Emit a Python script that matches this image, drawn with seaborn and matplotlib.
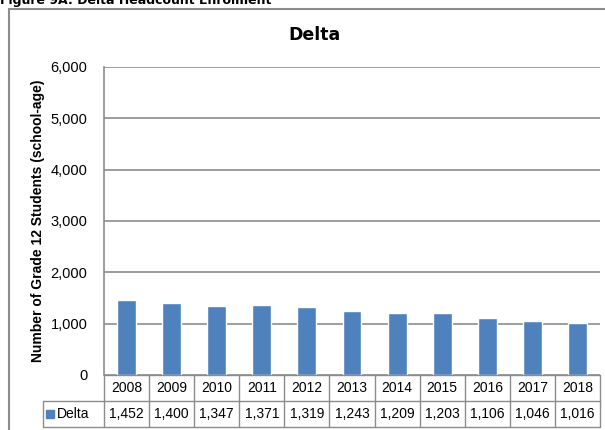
"""Figure 9A: Delta headcount enrolment, grade 12 (school-age)."""

import numpy as np
import pandas as pd
import matplotlib
matplotlib.use('Agg')
import matplotlib.pyplot as plt
import matplotlib.transforms as mtransforms
import seaborn as sns
from matplotlib.patches import Rectangle

years = ['2008', '2009', '2010', '2011', '2012', '2013', '2014', '2015', '2016', '2017', '2018']
delta = [1452, 1400, 1347, 1371, 1319, 1243, 1209, 1203, 1106, 1046, 1016]
yticks = [0, 1000, 2000, 3000, 4000, 5000, 6000]

BAR = '#4F81BD'
GRID = '#8C8C8C'
FONT = 'Liberation Sans'

sns.set_style('white')
plt.rcParams['font.family'] = [FONT, 'DejaVu Sans']
plt.rcParams['text.color'] = 'black'
plt.rcParams['axes.labelcolor'] = 'black'
plt.rcParams['ytick.labelcolor'] = 'black'

df = pd.DataFrame({'year': years, 'students': delta})

fig = plt.figure(figsize=(6.05, 4.30), dpi=100)
W, H = 605, 430
ax = fig.add_axes([104 / W, 1 - 375 / H, 496 / W, 308 / H])

sns.barplot(data=df, x='year', y='students', color=BAR, width=0.42,
            saturation=1, ax=ax)

ax.set_ylim(0, 6000)
ax.set_yticks(yticks)
ax.set_yticklabels([f'{v:,}' for v in yticks], fontsize=10.5)
ax.yaxis.grid(True, color=GRID, linewidth=1.2)
ax.set_axisbelow(True)
ax.set_xlim(-0.5, len(years) - 0.5)
ax.set_xticks([])
ax.set_xlabel('')
ax.set_ylabel('Number of Grade 12 Students (school-age)', fontsize=10,
              fontweight='bold', labelpad=4)
ax.tick_params(axis='y', length=4, color=GRID, pad=8)
for side in ['top', 'right', 'bottom']:
    ax.spines[side].set_visible(False)
ax.spines['left'].set_color(GRID)
ax.spines['left'].set_linewidth(1.2)

# data table under the bars: x in data units, y in axes units
trans = mtransforms.blended_transform_factory(ax.transData, ax.transAxes)
row_h = 26 / 308
y_top, y_mid, y_bot = 0.0, -row_h, -2 * row_h
lab_left = -0.5 - 61 / 496 * len(years)
n = len(years)
line_kw = dict(color=GRID, linewidth=1.0, transform=trans, clip_on=False)
ax.plot([-0.5, n - 0.5], [y_top, y_top], **line_kw)
ax.plot([lab_left, n - 0.5], [y_mid, y_mid], **line_kw)
ax.plot([lab_left, n - 0.5], [y_bot, y_bot], **line_kw)
ax.plot([lab_left, lab_left], [y_mid, y_bot], **line_kw)
for i in range(n + 1):
    ax.plot([i - 0.5, i - 0.5], [y_top, y_bot], **line_kw)
for i, (yr, v) in enumerate(zip(years, delta)):
    ax.text(i, (y_top + y_mid) / 2, yr, ha='center', va='center',
            fontsize=10, transform=trans)
    ax.text(i, (y_mid + y_bot) / 2, f'{v:,}', ha='center', va='center',
            fontsize=10, transform=trans)
ax.text(lab_left + 0.30, (y_mid + y_bot) / 2, 'Delta', ha='left', va='center',
        fontsize=10, transform=trans)
ax.add_patch(Rectangle((lab_left + 0.07, (y_mid + y_bot) / 2 - 4 / 308), 0.18, 8 / 308,
                       transform=trans, color=BAR, clip_on=False))

fig.text(314 / W, 1 - 35 / H, 'Delta', ha='center', va='center',
         fontsize=12.5, fontweight='bold', family='DejaVu Sans')
fig.text(0.0, 1 - 4 / H, 'Figure 9A: Delta Headcount Enrolment', ha='left',
         va='baseline', fontsize=9, fontweight='bold', family='DejaVu Sans')
fig.patches.append(Rectangle((9 / W, -0.05), 1.1, 1 - 9 / H + 0.05,
                             transform=fig.transFigure, fill=False,
                             edgecolor='#8C8C8C', linewidth=1.5))

plt.savefig('out.png', dpi=100)
plt.close(fig)
